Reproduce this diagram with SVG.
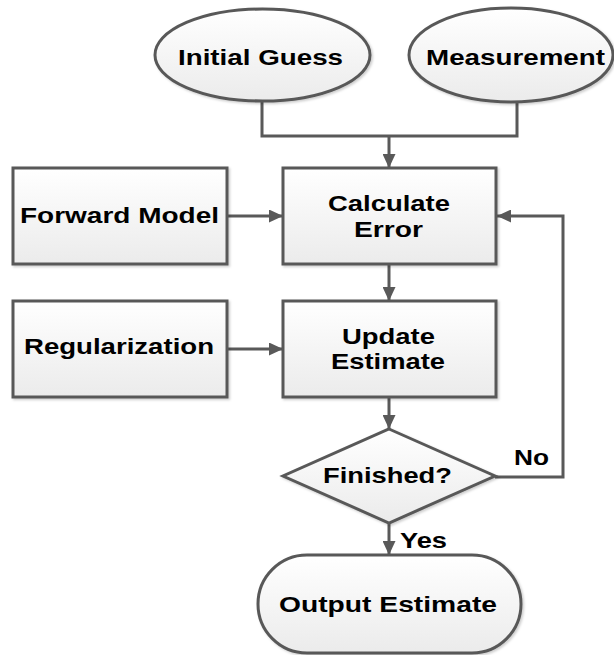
<svg xmlns="http://www.w3.org/2000/svg" width="614" height="655" viewBox="0 0 614 655">
<defs>
<linearGradient id="g" x1="0" y1="0" x2="0" y2="1">
<stop offset="0" stop-color="#ffffff"/>
<stop offset="1" stop-color="#ebebeb"/>
</linearGradient>
<filter id="sh" x="-10%" y="-10%" width="120%" height="120%">
<feDropShadow dx="1.5" dy="1.5" stdDeviation="1" flood-color="#000" flood-opacity="0.2"/>
</filter>
<marker id="ah" viewBox="0 0 14 13" refX="14" refY="6.5" markerWidth="14" markerHeight="13" markerUnits="userSpaceOnUse" orient="auto">
<path d="M0,0 L14,6.5 L0,13 Z" fill="#595959"/>
</marker>
</defs>
<style>
.n{fill:url(#g);stroke:#595959;stroke-width:3;filter:url(#sh)}
.t{font-family:"Liberation Sans",Arial,sans-serif;font-weight:bold;font-size:22px;fill:#000;text-anchor:middle}
.c{fill:none;stroke:#595959;stroke-width:3}
</style>
<g id="connectors">
<polyline class="c" points="262,101 262,136 517,136 517,102"/>
<line class="c" x1="389" y1="136" x2="389" y2="168" marker-end="url(#ah)"/>
<line class="c" x1="227" y1="216" x2="283" y2="216" marker-end="url(#ah)"/>
<line class="c" x1="389" y1="264" x2="389" y2="301" marker-end="url(#ah)"/>
<line class="c" x1="227" y1="349" x2="283" y2="349" marker-end="url(#ah)"/>
<line class="c" x1="389" y1="397" x2="389" y2="429" marker-end="url(#ah)"/>
<polyline class="c" points="495,477 563,477 563,216 497,216" marker-end="url(#ah)"/>
<line class="c" x1="389" y1="523" x2="389" y2="555" marker-end="url(#ah)"/>
<text class="t" x="531.5" y="465" textLength="35" lengthAdjust="spacingAndGlyphs">No</text>
<text class="t" x="423.5" y="548" textLength="47" lengthAdjust="spacingAndGlyphs">Yes</text>
</g>
<g id="initial-guess">
<ellipse class="n" cx="262.5" cy="55" rx="107.5" ry="46"/>
<text class="t" x="260.5" y="65" textLength="165" lengthAdjust="spacingAndGlyphs">Initial Guess</text>
</g>
<g id="measurement">
<ellipse class="n" cx="511" cy="55" rx="102" ry="47"/>
<text class="t" x="515.5" y="65" textLength="179" lengthAdjust="spacingAndGlyphs">Measurement</text>
</g>
<g id="forward-model">
<rect class="n" x="13" y="168" width="214" height="96"/>
<text class="t" x="119.5" y="223" textLength="199" lengthAdjust="spacingAndGlyphs">Forward Model</text>
</g>
<g id="calculate-error">
<rect class="n" x="283" y="168" width="213" height="96"/>
<text class="t" x="389" y="211" textLength="122" lengthAdjust="spacingAndGlyphs">Calculate</text>
<text class="t" x="388.5" y="237" textLength="69" lengthAdjust="spacingAndGlyphs">Error</text>
</g>
<g id="regularization">
<rect class="n" x="13" y="301" width="214" height="96"/>
<text class="t" x="119" y="354" textLength="190" lengthAdjust="spacingAndGlyphs">Regularization</text>
</g>
<g id="update-estimate">
<rect class="n" x="283" y="301" width="213" height="96"/>
<text class="t" x="388.5" y="344" textLength="93" lengthAdjust="spacingAndGlyphs">Update</text>
<text class="t" x="388" y="369" textLength="114" lengthAdjust="spacingAndGlyphs">Estimate</text>
</g>
<g id="finished">
<polygon class="n" points="389,429 495,476 389,523 283,476"/>
<text class="t" x="387.5" y="483" textLength="129" lengthAdjust="spacingAndGlyphs">Finished?</text>
</g>
<g id="output-estimate">
<rect class="n" x="258" y="555" width="263" height="98" rx="49" ry="49"/>
<text class="t" x="388" y="612" textLength="218" lengthAdjust="spacingAndGlyphs">Output Estimate</text>
</g>
</svg>
